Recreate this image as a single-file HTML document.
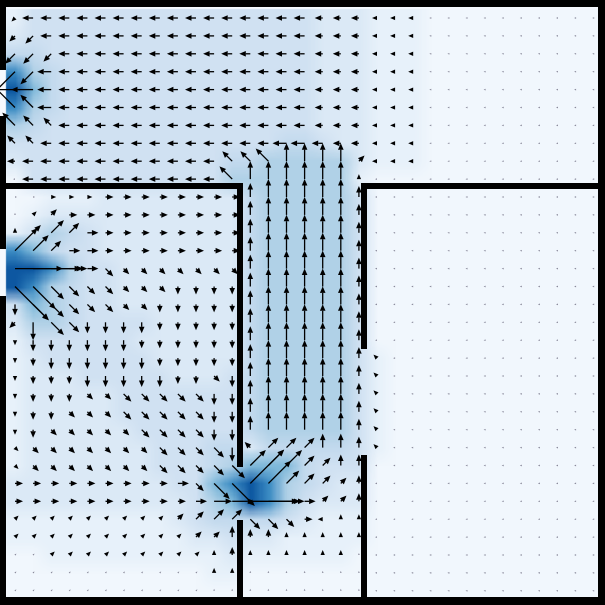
<!DOCTYPE html>
<html><head><meta charset="utf-8">
<style>
html,body{margin:0;padding:0;background:#fff;}
#wrap{position:relative;width:605px;height:605px;overflow:hidden;}
canvas,svg{position:absolute;left:0;top:0;}
</style></head>
<body>
<div id="wrap">
<canvas id="heat" width="605" height="605"></canvas>
<svg id="plot" width="605" height="605" xmlns="http://www.w3.org/2000/svg">
<g id="arrows"></g>
<g id="walls" fill="#000">
<rect x="0" y="0" width="605" height="7"/>
<rect x="0" y="597" width="605" height="8"/>
<rect x="598" y="0" width="7" height="605"/>
<rect x="0" y="0" width="6" height="70"/>
<rect x="0" y="116" width="6" height="133"/>
<rect x="0" y="296" width="6" height="309"/>
<rect x="0" y="183" width="243" height="6"/>
<rect x="361" y="183" width="244" height="6"/>
<rect x="237" y="183" width="6" height="284"/>
<rect x="237" y="520" width="6" height="85"/>
<rect x="361" y="183" width="6" height="166"/>
<rect x="361" y="455" width="6" height="150"/>
</g>
</svg>
</div>
<script>
// direction codes: l r u d, q=up-left e=up-right z=down-left c=down-right
const dirRows = [
"zllllllllll"+"lllllllllll"+"lllllllllll",
"zzlllllllll"+"lllllllllll"+"lllllllllll",
"zzzllllllll"+"lllllllllll"+"lllllllllll",
"zzlllllllll"+"lllllllllll"+"lllllllllll",
"lllllllllll"+"lllllllllll"+"lllllllllll",
"qqlllllllll"+"lllllllllll"+"lllllllllll",
"qqqllllllll"+"lllllllllll"+"lllllllllll",
"qqlllllllll"+"lllllllllll"+"lllllllllll",
"lllllllllll"+"lqqquuuuell"+"lllllllllll",
"lllllllllll"+"lquuuuuuull"+"lllllllllll",
"rrrrrrrrrrrrr"+"uuuuuuu"+"lllllllllllll",
"ueerrrrrrrrrr"+"uuuuuuu"+"lllllllllllll",
"ueeerrrrrrrrr"+"uuuuuuu"+"lllllllllllll",
"eeerrrrrrrrrr"+"uuuuuuu"+"lllllllllllll",
"rrrrrcccccccc"+"uuuuuuu"+"lllllllllllll",
"cccccccccdddd"+"uuuuuuu"+"lllllllllllll",
"dcccccccddddd"+"uuuuuuu"+"lllllllllllll",
"zdccddddddddd"+"uuuuuuu"+"lllllllllllll",
"ddddddddddddd"+"uuuuuuu"+"lllllllllllll",
"ddddddddddddd"+"uuuuuuu"+"qllllllllllll",
"dddddddddddcd"+"uuuuuuu"+"qllllllllllll",
"ddddcccccccdd"+"uuuuuuu"+"qllllllllllll",
"dddccccccccdd"+"uuuuuuu"+"qllllllllllll",
"ddcccccccccdd"+"uuuuuuu"+"qllllllllllll",
"ccccccccccccd"+"qeeeuuu"+"qllllllllllll",
"ccccccccccccc"+"eeeeeuu"+"lllllllllllll",
"rrrrrrrrrrccc"+"eeeeeeu"+"lllllllllllll",
"rrrrrrrrrrrrr"+"rrrreeu"+"lllllllllllll",
"eeeeeeeeeeeee"+"cccrluu"+"lllllllllllll",
"eeeeeeeeeeeeu"+"uuuuuuu"+"lllllllllllll",
"eeeeeeeeeeeuu"+"uuuuuuu"+"lllllllllllll",
"eeeeeeeeeeeuu"+"uuuuuuu"+"lllllllllllll",
"eeeeeeeeeeeuu"+"uuuuuuu"+"lllllllllllll"
];
// speed level 0-9 per cell
const magRows = [
"24444444444"+"44444433322"+"21111111111",
"34444444444"+"44444433322"+"21111111111",
"55444444444"+"44444433322"+"21111111111",
"86544444444"+"44444433322"+"21111111111",
"97544444444"+"44444433322"+"21111111111",
"86544444444"+"44444433322"+"21111111111",
"65444444444"+"44444433322"+"21111111111",
"44444444444"+"44445543322"+"21111111111",
"34444444444"+"45566666322"+"21111111111",
"14444444444"+"46666666211"+"11111111111",
"1122233333333"+"5666664"+"1111111111111",
"1233333333333"+"5666664"+"1111111111111",
"2465433333333"+"5666664"+"1111111111111",
"8754433333333"+"5666664"+"1111111111111",
"9986443333333"+"5666664"+"1111111111111",
"9865443333333"+"5666664"+"1111111111111",
"4765443333333"+"5666664"+"1111111111111",
"3665444433333"+"5666664"+"1111111111111",
"2444444333333"+"5666664"+"1111111111111",
"2344444433333"+"5666664"+"2111111111111",
"2333444443334"+"5666664"+"2111111111111",
"2333334444444"+"5666664"+"2111111111111",
"2333334444444"+"5666664"+"2111111111111",
"2333333444444"+"5666664"+"2111111111111",
"2333333344455"+"3555554"+"2111111111111",
"2333333344456"+"7775444"+"1111111111111",
"3333333334478"+"9865433"+"1111111111111",
"3333333333467"+"9864333"+"1111111111111",
"2222222223455"+"5543222"+"1111111111111",
"2222222222334"+"3322222"+"1111111111111",
"1122222222223"+"2222221"+"1111111111111",
"1111111111122"+"1111111"+"1111111111111",
"1111111111111"+"1111111"+"1111111111111"
];
const arrowLengths = [0,2,5,8,11,14,18,22,32,48];
const heatLevels = [0,0.03,0.08,0.14,0.2,0.26,0.32,0.45,0.65,0.85];

const X0 = 15, DX = 18.1, Y0 = 18, DY = 17.9;
function xScale(i){ return X0 + DX*i; }
function yScale(j){ return Y0 + DY*j; }
const DIRS = {l:[-1,0],r:[1,0],u:[0,-1],d:[0,1],q:[-0.707,-0.707],e:[0.707,-0.707],z:[-0.707,0.707],c:[0.707,0.707]};

const blues = [[247,251,255],[222,235,247],[198,219,239],[158,202,225],[107,174,214],[66,146,198],[33,113,181],[8,81,156],[8,48,107]];
function blueAt(t){
  t = Math.max(0,Math.min(1,t))*8; const i=Math.min(7,Math.floor(t)), f=t-i;
  return blues[i].map((v,k)=>Math.round(v+(blues[i+1][k]-v)*f));
}
const rows = magRows.length, cols = 33;
const small = document.createElement('canvas');
small.width = cols; small.height = rows;
const sctx = small.getContext('2d');
const img = sctx.createImageData(cols, rows);
for(let j=0;j<rows;j++) for(let i=0;i<cols;i++){
  const m = +(magRows[j][i]||0);
  const c = blueAt(heatLevels[m]), p=(j*cols+i)*4;
  img.data[p]=c[0]; img.data[p+1]=c[1]; img.data[p+2]=c[2]; img.data[p+3]=255;
}
sctx.putImageData(img,0,0);
const hctx = document.getElementById('heat').getContext('2d');
hctx.fillStyle='#f5f9fe'; hctx.fillRect(0,0,605,605);
hctx.imageSmoothingEnabled = true;
hctx.drawImage(small, xScale(0)-DX/2, yScale(0)-DY/2, DX*cols, DY*rows);

const NS='http://www.w3.org/2000/svg';
const g = document.getElementById('arrows');
for(let j=0;j<rows;j++) for(let i=0;i<cols;i++){
  const d = DIRS[dirRows[j][i]]||[0,0];
  const L = arrowLengths[+(magRows[j][i]||0)];
  const x = xScale(i), y = yScale(j);
  if(L<=0) continue;
  const ux=d[0], uy=d[1], px=-uy, py=ux;
  const hl = Math.min(6.5, L), hw = 2.8*hl/6.5;
  const ex=x+ux*L, ey=y+uy*L, bx=ex-ux*hl, by=ey-uy*hl;
  if(L>hl+0.5){
    const ln=document.createElementNS(NS,'line');
    ln.setAttribute('x1',x); ln.setAttribute('y1',y);
    ln.setAttribute('x2',bx); ln.setAttribute('y2',by);
    ln.setAttribute('stroke','#000'); ln.setAttribute('stroke-width','1.3');
    
    
    g.appendChild(ln);
  }
  const hd=document.createElementNS(NS,'polygon');
  hd.setAttribute('points',`${ex},${ey} ${bx+px*hw},${by+py*hw} ${bx-px*hw},${by-py*hw}`);
  hd.setAttribute('fill', L<=2 ? '#889' : '#000');
  
  
  g.appendChild(hd);
}
</script>
</body></html>
